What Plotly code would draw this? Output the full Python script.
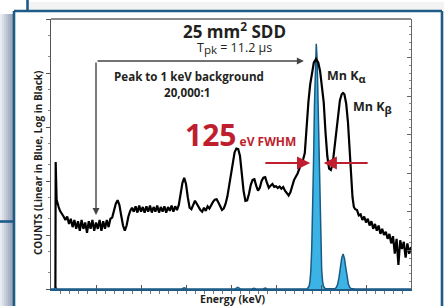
import plotly.graph_objects as go

# ---- Data ----
# Black spectrum (log scale), energy in keV, counts
black_energy = [0.098, 0.104, 0.112, 0.125, 0.14, 0.17, 0.20, 0.24, 0.28, 0.32, 0.36, 0.40, 0.44, 0.48, 0.52,
                0.56, 0.60, 0.64, 0.68, 0.72, 0.76, 0.80, 0.84, 0.88, 0.92, 0.96, 1.00, 1.04, 1.08, 1.12,
                1.16, 1.20, 1.24, 1.28, 1.32, 1.36, 1.40, 1.44, 1.48, 1.52, 1.56, 1.60, 1.64, 1.68, 1.72,
                1.76, 1.80, 1.84, 1.88, 1.92, 1.96, 2.00, 2.04, 2.08, 2.12, 2.16, 2.20, 2.24, 2.28, 2.32,
                2.36, 2.40, 2.44, 2.48, 2.52, 2.56, 2.60, 2.64, 2.68, 2.72, 2.76, 2.80, 2.84, 2.88, 2.92,
                2.96, 3.00, 3.04, 3.08, 3.12, 3.16, 3.20, 3.24, 3.28, 3.32, 3.36, 3.40, 3.44, 3.48, 3.52,
                3.56, 3.60, 3.64, 3.68, 3.72, 3.76, 3.80, 3.84, 3.88, 3.92, 3.96, 4.00, 4.04, 4.08, 4.12,
                4.16, 4.20, 4.24, 4.28, 4.32, 4.36, 4.40, 4.44, 4.48, 4.52, 4.56, 4.60, 4.64, 4.68, 4.72,
                4.76, 4.80, 4.84, 4.88, 4.92, 4.96, 5.00, 5.04, 5.08, 5.12, 5.16, 5.20, 5.24, 5.28, 5.32,
                5.36, 5.40, 5.44, 5.48, 5.52, 5.56, 5.60, 5.64, 5.68, 5.72, 5.76, 5.80, 5.84, 5.89, 5.94,
                5.98, 6.02, 6.06, 6.10, 6.14, 6.18, 6.22, 6.26, 6.30, 6.34, 6.38, 6.42, 6.46, 6.49, 6.52,
                6.56, 6.60, 6.64, 6.67, 6.70, 6.73, 6.76, 6.80, 6.84, 6.88, 6.92, 6.96, 7.00, 7.04, 7.08,
                7.12, 7.16, 7.20, 7.24, 7.28, 7.32, 7.36, 7.40, 7.44, 7.48, 7.52, 7.56, 7.60, 7.64, 7.68,
                7.72, 7.76, 7.80, 7.84, 7.88, 7.92, 7.96, 8.00]
black_counts = [1.05, 224, 120, 45, 39, 33, 28, 24, 22, 19, 22, 16, 20, 14, 19,
                13, 18, 12, 19, 13, 17, 11, 18, 13, 19, 12, 17, 13, 19, 12,
                18, 13, 19, 14, 20, 21, 28, 38, 44, 36, 23, 15, 12, 15, 22,
                28, 32, 27, 34, 26, 35, 27, 33, 26, 34, 27, 35, 26, 33, 27,
                35, 26, 33, 27, 34, 26, 33, 28, 35, 27, 34, 29, 36, 55, 92,
                114, 88, 50, 32, 30, 37, 43, 38, 33, 29, 27, 32, 28, 34, 31,
                36, 41, 45, 46, 40, 33, 29, 31, 38, 52, 85, 150, 240, 340, 400,
                390, 290, 140, 65, 43, 44, 58, 85, 105, 108, 82, 66, 75, 100, 115,
                118, 92, 75, 82, 88, 78, 80, 74, 79, 72, 77, 66, 60, 54, 62,
                80, 104, 120, 138, 170, 200, 245, 330, 1080, 2880, 6170, 10800, 15500, 18200, 15500,
                10800, 6170, 2880, 800, 290, 170, 160, 210, 427, 1000, 1970, 3110, 4030, 4260, 4030,
                2700, 1200, 330, 110, 50, 33, 30, 29, 23, 24, 19, 22, 17, 20, 15,
                18, 13, 16, 12, 15, 10.5, 13, 10, 11.5, 8.5, 10.5, 7, 9.5, 4.5, 8.5,
                2.8, 8, 5.5, 7.5, 3.8, 7, 4.5, 6]

# Blue spectrum (linear scale)
blue_energy = [0.0, 0.07, 0.10, 0.13, 2.90, 2.96, 3.02, 4.09, 4.15, 4.21, 4.46, 4.51, 4.56, 4.71, 4.76, 4.81,
               5.695, 5.735, 5.755, 5.775, 5.795, 5.815, 5.835, 5.855, 5.875, 5.895, 5.915, 5.935, 5.955,
               5.975, 5.995, 6.015, 6.035, 6.055, 6.095,
               6.31, 6.34, 6.37, 6.40, 6.43, 6.46, 6.49, 6.52, 6.55, 6.58, 6.61, 6.64, 6.67, 6.75, 8.0]
blue_counts = [0, 0, 250, 0, 0, 150, 0, 0, 200, 0, 0, 100, 0, 0, 120, 0,
               30, 350, 990, 2450, 5400, 10200, 16800, 23900, 29600, 31800, 29600, 23900, 16800,
               10200, 5400, 2450, 990, 350, 30,
               50, 200, 610, 1480, 2760, 4000, 4540, 4000, 2760, 1480, 610, 200, 50, 0, 0]

title_text = "25 mm² SDD"
tpk_parts = ["T", "pk", " = 11.2 µs"]
ratio_text = ["Peak to 1 keV background", "20,000:1"]
fwhm_text = ["125", "eV FWHM"]
line_labels = [("Mn K", "α"), ("Mn K", "β")]

FONT = "Open Sans"
DARK = "#231f20"
RED = "#be1e2d"
FRAME = "#1f5b87"

fig = go.Figure()
fig.add_trace(go.Scatter(x=blue_energy, y=blue_counts, mode="lines", yaxis="y",
                         line=dict(color="#1a5a84", width=1.5), fill="tozeroy",
                         fillcolor="#3bb4e5", hoverinfo="skip", showlegend=False))
fig.add_trace(go.Scatter(x=black_energy, y=black_counts, mode="lines", yaxis="y2",
                         line=dict(color="#000000", width=2.2), hoverinfo="skip", showlegend=False))

W, H = 444, 306
L, R, T, B = 51, 33, 19, 17
pw, ph = W - L - R, H - T - B


def px(x):
    return (x - L) / pw


def py(y):
    return (H - B - y) / ph


shapes = []
# left shadow gradient
shade = ["#e8ebf1", "#d9dee7", "#cad1dd", "#bbc3d2", "#adb6c8", "#a0aabf", "#95a0b7"]
for i, c in enumerate(shade):
    shapes.append(dict(type="rect", xref="paper", yref="paper", x0=px(i * 2), x1=px(i * 2 + 2),
                       y0=py(306), y1=py(14), fillcolor=c, line=dict(width=0), layer="below"))
# faint top shadow
shapes.append(dict(type="rect", xref="paper", yref="paper", x0=px(28), x1=px(444), y0=py(10), y1=py(2),
                   fillcolor="#f3f3f3", line=dict(width=0), layer="below"))
# panel frame
for (x0, y0, x1, y1) in [(14, 11, 442, 11), (14, 11, 14, 306), (442, 11, 442, 306),
                         (27.5, 0, 27.5, 11), (0, 221.5, 14, 221.5)]:
    shapes.append(dict(type="line", xref="paper", yref="paper", x0=px(x0), y0=py(y0), x1=px(x1), y1=py(y1),
                       line=dict(color=FRAME, width=2.6)))
# top border of plot area
shapes.append(dict(type="line", xref="paper", yref="paper", x0=0, x1=1, y0=1, y1=1,
                   line=dict(color="#666666", width=1.3)))


def subtext(base, sub, size, shift):
    return base + "<span style='font-size:%gpx;baseline-shift:-%gpx'>%s</span>" % (size, shift, sub)


annotations = [
    dict(text="<b>" + title_text.replace("²", "<sup>2</sup>") + "</b>", x=px(234), y=py(31),
         font=dict(size=17, color=DARK)),
    dict(text=subtext(tpk_parts[0], tpk_parts[1], 11.5, 2) + tpk_parts[2],
         x=px(234.5), y=py(48), font=dict(size=12.5, color=DARK)),
    dict(text="<b>" + ratio_text[0] + "</b>", x=px(189), y=py(76), font=dict(size=11.6, color=DARK)),
    dict(text="<b>" + ratio_text[1] + "</b>", x=px(187), y=py(93), font=dict(size=11.6, color=DARK)),
    dict(text="<b>" + fwhm_text[0] + "</b><b><span style='font-size:12px'> " + fwhm_text[1] + "</span></b>",
         x=px(183), y=py(134), xanchor="left", font=dict(size=30, color=RED)),
    dict(text="<b>" + subtext(line_labels[0][0], line_labels[0][1], 11, 3) + "</b>",
         x=px(325), y=py(76), xanchor="left", font=dict(size=12.5, color=DARK)),
    dict(text="<b>" + subtext(line_labels[1][0], line_labels[1][1], 11, 3) + "</b>",
         x=px(351), y=py(107), xanchor="left", font=dict(size=12.5, color=DARK)),
    dict(text="<b>COUNTS (Linear in Blue, Log in Black)</b>", x=px(37.5), y=py(163.5), textangle=-90,
         font=dict(size=10, color=DARK)),
    dict(text="<b>Energy (keV)</b>", x=px(232), y=py(299), font=dict(size=10.5, color=DARK)),
]
for a in annotations:
    a.setdefault("xref", "paper")
    a.setdefault("yref", "paper")
    a.setdefault("showarrow", False)
    a.setdefault("xanchor", "center")
    a.setdefault("yanchor", "middle")
    a["font"]["family"] = FONT

# arrows
annotations += [
    dict(x=5.62, y=py(61), xref="x", yref="paper", ax=1.0, axref="x", ay=0, ayref="pixel", text="",
         showarrow=True, arrowhead=2, arrowsize=1, arrowwidth=1.4, arrowcolor="#444444"),
    dict(x=1.0, y=py(215), xref="x", yref="paper", ax=0, ay=-154, text="",
         showarrow=True, arrowhead=2, arrowsize=1, arrowwidth=1.4, arrowcolor="#444444"),
    dict(x=5.76, y=py(163), xref="x", yref="paper", ax=4.73, axref="x", ay=0, ayref="pixel", text="",
         showarrow=True, arrowhead=2, arrowsize=1.2, arrowwidth=2.2, arrowcolor=RED),
    dict(x=6.06, y=py(163), xref="x", yref="paper", ax=7.07, axref="x", ay=0, ayref="pixel", text="",
         showarrow=True, arrowhead=2, arrowsize=1.2, arrowwidth=2.2, arrowcolor=RED),
]

fig.update_layout(
    width=W, height=H, margin=dict(l=L, r=R, t=T, b=B),
    paper_bgcolor="white", plot_bgcolor="white",
    font=dict(family=FONT, color=DARK),
    shapes=shapes, annotations=annotations,
    xaxis=dict(range=[0, 8], dtick=1, showgrid=False, zeroline=False, showticklabels=False,
               showline=True, linecolor=FRAME, linewidth=2, ticks="inside", ticklen=4, tickcolor="#555",
               minor=dict(dtick=0.2, ticks="outside", ticklen=3, tickcolor="#777")),
    yaxis=dict(range=[0, 35000], side="right", dtick=5000, showgrid=False, zeroline=False,
               showticklabels=False, showline=True, linecolor="#666", linewidth=1.3,
               ticks="inside", ticklen=4, tickcolor="#666",
               minor=dict(dtick=1000, ticks="inside", ticklen=2, tickcolor="#888")),
    yaxis2=dict(type="log", range=[0, 5], overlaying="y", side="left", anchor="x", showgrid=False,
                zeroline=False, showticklabels=False, showline=True, linecolor="#555", linewidth=1.3,
                ticks="outside", ticklen=4, tickcolor="#555", dtick=1,
                minor=dict(ticks="outside", ticklen=2, tickcolor="#888", dtick="D2")),
)

fig.write_html("out.html", config={"displayModeBar": False},
               post_script="document.body.style.margin='0px';document.body.style.overflow='hidden';")
